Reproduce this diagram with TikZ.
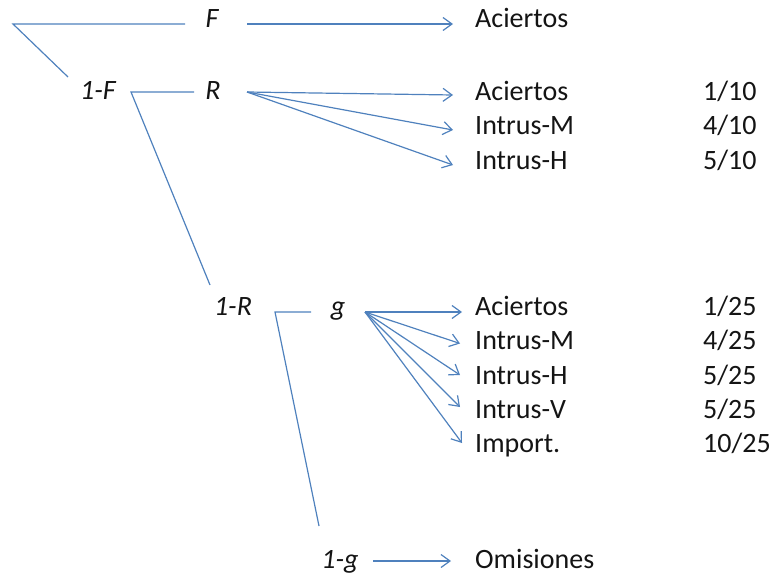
\documentclass[tikz,border=0pt]{standalone}
\usepackage{fontspec}
\setmainfont{Carlito}
\usetikzlibrary{arrows.meta}
\definecolor{lineblue}{RGB}{79,129,189}
\definecolor{txt}{RGB}{20,20,20}
\begin{document}
\begin{tikzpicture}[x=1pt,y=-1pt,
  every node/.style={inner sep=0pt,text=txt,font=\fontsize{28}{33}\selectfont},
  lab/.style={anchor=base,font=\fontsize{28}{33}\selectfont\itshape},
  res/.style={anchor=base west},
  frac/.style={anchor=base west},
  conn/.style={draw=lineblue,line width=1.2pt},
  arr/.style={conn,-{Straight Barb[length=9pt,width=13pt,line width=1.2pt]}}]
\useasboundingbox (0,0) rectangle (775,578);
% labels
\node[lab] (F) at (212,28) {F};
\node[lab] (oneF) at (98,99) {1-F};
\node[lab] (R) at (213,99) {R};
\node[lab] (oneR) at (233,315) {1-R};
\node[lab] (g) at (338,315) {g};
\node[lab] (oneg) at (340,568) {1-g};
% results
\node[res] (a0) at (475,28) {Aciertos};
\node[res] (a1) at (475,100) {Aciertos};
\node[res] (m1) at (475,134.5) {Intrus-M};
\node[res] (h1) at (475,169) {Intrus-H};
\node[res] (a2) at (475,315) {Aciertos};
\node[res] (m2) at (475,349.5) {Intrus-M};
\node[res] (h2) at (475,384) {Intrus-H};
\node[res] (v2) at (475,418) {Intrus-V};
\node[res] (i2) at (475,452) {Import.};
\node[res] (om) at (475,568) {Omisiones};
% fractions
\node[frac] (f1) at (703,100) {1/10};
\node[frac] (f2) at (703,134.5) {4/10};
\node[frac] (f3) at (703,169) {5/10};
\node[frac] (f4) at (703,315) {1/25};
\node[frac] (f5) at (703,349.5) {4/25};
\node[frac] (f6) at (703,384) {5/25};
\node[frac] (f7) at (703,418) {5/25};
\node[frac] (f8) at (703,452) {10/25};
% tree lines
\coordinate (c0) at (13,24);
\coordinate (c0e) at (185,24);
\coordinate (c0d) at (68,77);
\coordinate (c1) at (131,92);
\coordinate (c1e) at (194,92);
\coordinate (c1d) at (210,285);
\coordinate (c2) at (275,312);
\coordinate (c2e) at (311,312);
\coordinate (c2d) at (319,526);
\draw[conn] (c0d) -- (c0) -- (c0e);
\draw[conn] (c1d) -- (c1) -- (c1e);
\draw[conn] (c2d) -- (c2) -- (c2e);
% arrows
\coordinate (sF) at (247,24);
\coordinate (sR) at (247,92);
\coordinate (sg) at (365,312);
\coordinate (sog) at (373,561);
\draw[arr] (sF) -- ([xshift=-22pt,yshift=4pt]a0.base west);
\draw[arr] (sR) -- ([xshift=-22pt,yshift=5pt]a1.base west);
\draw[arr] (sR) -- ([xshift=-22pt,yshift=4.5pt]m1.base west);
\draw[arr] (sR) -- ([xshift=-22pt,yshift=4pt]h1.base west);
\draw[arr] (sg) -- ([xshift=-13pt,yshift=3pt]a2.base west);
\draw[arr] (sg) -- ([xshift=-15pt,yshift=6pt]m2.base west);
\draw[arr] (sg) -- ([xshift=-15pt,yshift=9pt]h2.base west);
\draw[arr] (sg) -- ([xshift=-15pt,yshift=11pt]v2.base west);
\draw[arr] (sg) -- ([xshift=-13pt,yshift=9pt]i2.base west);
\draw[arr] (sog) -- ([xshift=-24pt,yshift=7pt]om.base west);
\end{tikzpicture}
\end{document}
